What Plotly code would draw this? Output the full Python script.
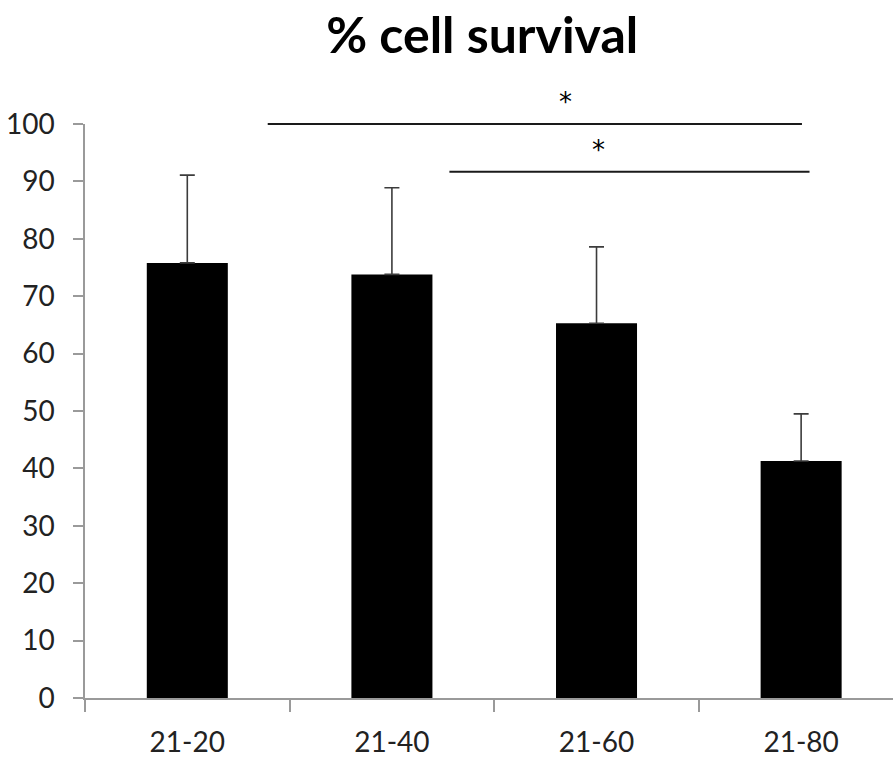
import plotly.graph_objects as go

categories = ["21-20", "21-40", "21-60", "21-80"]
survival = [75.8, 73.8, 65.3, 41.3]
error_up = [15.3, 15.1, 13.3, 8.2]
y_ticks = [0, 10, 20, 30, 40, 50, 60, 70, 80, 90, 100]

FONT = "Lato, Carlito, Calibri, sans-serif"

fig = go.Figure()
fig.add_trace(go.Bar(
    x=categories, y=survival,
    width=0.396,
    marker=dict(color="#000000", line=dict(width=0)),
    error_y=dict(type="data", symmetric=False, array=error_up, arrayminus=[0] * len(error_up),
                 color="#3c3c3c", thickness=1.6, width=7.5),
))

# significance brackets
line_style = dict(color="#1a1a1a", width=2)
fig.add_shape(type="line", xref="x", yref="paper", x0=0.393, x1=3.004, y0=1.0, y1=1.0, line=line_style)
fig.add_shape(type="line", xref="x", yref="paper", x0=1.281, x1=3.041, y0=0.917, y1=0.917, line=line_style)
star_font = dict(family="DejaVu Sans, Liberation Sans, sans-serif", size=26, color="#000")
fig.add_annotation(x=1.85, y=1.038, xref="x", yref="paper", text="*", showarrow=False,
                   font=star_font, yanchor="middle")
fig.add_annotation(x=2.01, y=0.955, xref="x", yref="paper", text="*", showarrow=False,
                   font=star_font, yanchor="middle")

fig.update_layout(
    width=893, height=762,
    margin=dict(l=85.4, r=0, t=124.3, b=64.3, pad=0),
    paper_bgcolor="white", plot_bgcolor="white",
    showlegend=False,
    title=dict(text="<b>% cell survival</b>", x=0.54, xanchor="center", y=0.953, yanchor="middle",
               font=dict(family=FONT, size=50, color="#000")),
    xaxis=dict(
        type="category", range=[-0.5, 3.449],
        showline=True, linecolor="#9a9a9a", linewidth=1.5,
        ticks="outside", tickson="boundaries", ticklen=12, tickcolor="#9a9a9a", tickwidth=1.5,
        tickfont=dict(family=FONT, size=28, color="#222"),
        ticklabelstandoff=19,
        showgrid=False, zeroline=False,
    ),
    yaxis=dict(
        range=[0, 100], tickvals=y_ticks,
        showline=True, linecolor="#9a9a9a", linewidth=1.5,
        ticks="outside", ticklen=10, tickcolor="#9a9a9a", tickwidth=1.5,
        tickfont=dict(family=FONT, size=28, color="#222"),
        ticklabelstandoff=13,
        showgrid=False, zeroline=False,
    ),
)

fig.write_html("out.html", config={"displayModeBar": False},
               post_script="document.body.style.margin='0';")
